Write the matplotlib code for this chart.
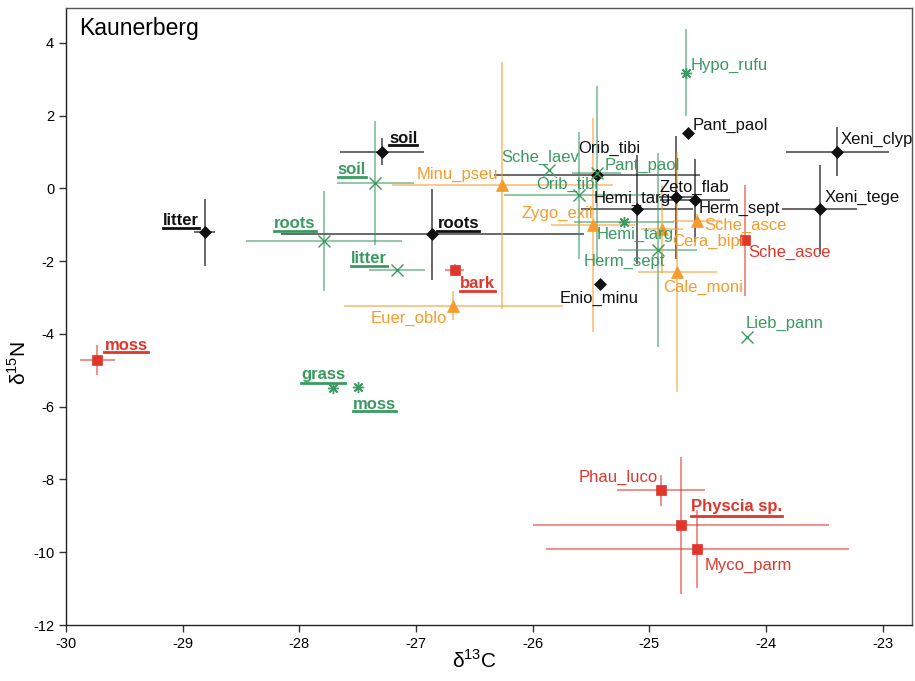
import matplotlib
matplotlib.use("Agg")
import matplotlib.pyplot as plt
from matplotlib.lines import Line2D

plt.rcParams['font.family'] = ['Liberation Sans', 'DejaVu Sans']
plt.rcParams['axes.unicode_minus'] = False
plt.rcParams['mathtext.fontset'] = 'custom'
plt.rcParams['mathtext.rm'] = 'Liberation Sans'

# --- data: (name, d13C, d15N, sd d13C, sd d15N) per group ---
black_names = ['litter', 'soil', 'roots', 'Orib_tibi', 'Pant_paol', 'Hemi_targ',
               'Zeto_flab', 'Herm_sept', 'Xeni_clyp', 'Xeni_tege', 'Enio_minu']
black_x = [-28.81, -27.29, -26.86, -25.45, -24.67, -25.11, -24.77, -24.61, -23.39, -23.54, -25.42]
black_y = [-1.21, 1.01, -1.26, 0.36, 1.53, -0.58, -0.25, -0.33, 1.01, -0.58, -2.63]
black_xerr = [0.09, 0.36, 1.30, 0.88, 0.0, 0.48, 0.15, 0.30, 0.44, 0.32, 0.0]
black_yerr = [0.92, 0.36, 1.25, 0.0, 0.0, 1.50, 1.68, 1.14, 0.67, 1.23, 0.0]

green_names = ['soil', 'roots', 'litter', 'grass', 'moss', 'Sche_laev', 'Orib_tibi',
               'Pant_paol', 'Hemi_targ', 'Herm_sept', 'Lieb_pann', 'Hypo_rufu']
green_x = [-27.35, -27.79, -27.16, -27.71, -27.50, -25.86, -25.60, -25.45, -25.22, -24.93, -24.16, -24.69]
green_y = [0.14, -1.45, -2.25, -5.48, -5.45, 0.49, -0.19, 0.41, -0.93, -1.70, -4.08, 3.18]
green_xerr = [0.33, 0.67, 0.24, 0.0, 0.0, 0.0, 0.65, 0.21, 0.43, 0.34, 0.0, 0.0]
green_yerr = [1.70, 1.38, 0.0, 0.0, 0.0, 0.0, 1.75, 2.40, 0.0, 2.67, 0.0, 1.20]
green_star = ['grass', 'moss', 'Hemi_targ', 'Hypo_rufu']

orange_names = ['Minu_pseu', 'Euer_oblo', 'Zygo_exil', 'Sche_asce', 'Cera_bipi', 'Cale_moni']
orange_x = [-26.26, -26.68, -25.48, -24.59, -24.89, -24.76]
orange_y = [0.08, -3.23, -1.01, -0.90, -1.12, -2.30]
orange_xerr = [0.95, 0.94, 0.36, 0.21, 0.18, 0.34]
orange_yerr = [3.40, 0.40, 2.95, 0.20, 1.20, 3.30]

red_names = ['moss', 'bark', 'Sche_asce', 'Phau_luco', 'Physcia sp.', 'Myco_parm']
red_x = [-29.73, -26.67, -24.18, -24.90, -24.73, -24.59]
red_y = [-4.71, -2.25, -1.43, -8.30, -9.26, -9.92]
red_xerr = [0.15, 0.08, 0.05, 0.38, 1.27, 1.30]
red_yerr = [0.41, 0.17, 1.52, 0.42, 1.89, 1.07]

resources = {'k': ['litter', 'soil', 'roots'],
             'g': ['soil', 'roots', 'litter', 'grass', 'moss'],
             'o': [],
             'r': ['moss', 'bark', 'Physcia sp.']}

# label placement: (dx px, dy px, ha, va)
lab_k = {'litter': (-6, 4, 'right', 'bottom'), 'soil': (7, 6, 'left', 'bottom'),
         'roots': (5, 3, 'left', 'bottom'), 'Orib_tibi': (-19, 19, 'left', 'bottom'),
         'Pant_paol': (5, 0, 'left', 'bottom'), 'Hemi_targ': (-4, 3, 'center', 'bottom'),
         'Zeto_flab': (-17, 2, 'left', 'bottom'), 'Herm_sept': (4, -1, 'left', 'top'),
         'Xeni_clyp': (3, 5, 'left', 'bottom'), 'Xeni_tege': (5, 4, 'left', 'bottom'),
         'Enio_minu': (-1, -7, 'center', 'top')}
lab_g = {'soil': (-9, 6, 'right', 'bottom'), 'roots': (-8, 10, 'right', 'bottom'),
         'litter': (-10, 4, 'right', 'bottom'), 'grass': (12, 6, 'right', 'bottom'),
         'moss': (-5, -10, 'left', 'top'), 'Sche_laev': (-9, 5, 'center', 'bottom'),
         'Orib_tibi': (19, 3, 'right', 'bottom'), 'Pant_paol': (8, 0, 'left', 'bottom'),
         'Hemi_targ': (-27, -5, 'left', 'top'), 'Herm_sept': (7, -4, 'right', 'top'),
         'Lieb_pann': (-2, 6, 'left', 'bottom'), 'Hypo_rufu': (5, 0, 'left', 'bottom')}
lab_o = {'Minu_pseu': (-4, 3, 'right', 'bottom'), 'Euer_oblo': (-6, -5, 'right', 'top'),
         'Zygo_exil': (0, 4, 'right', 'bottom'), 'Sche_asce': (7, -4, 'left', 'center'),
         'Cera_bipi': (10, -5, 'left', 'top'), 'Cale_moni': (-14, -8, 'left', 'top')}
lab_r = {'moss': (7, 7, 'left', 'bottom'), 'bark': (5, -6, 'left', 'top'),
         'Sche_asce': (3, -5, 'left', 'top'), 'Phau_luco': (-3, 5, 'right', 'bottom'),
         'Physcia sp.': (10, 11, 'left', 'bottom'), 'Myco_parm': (7, -9, 'left', 'top')}

c_k, c_g, c_o, c_r = '#111111', '#3a9a60', '#f59c2c', '#e0362c'

fig = plt.figure(figsize=(9.15, 6.81), dpi=100)
ax = fig.add_axes([0.0721, 0.0822, 0.9246, 0.9058])

underlined = []


def draw_group(names, xs, ys, xe, ye, color, marker, labels, res, ms, stars=()):
    for i, n in enumerate(names):
        if xe[i] > 0 or ye[i] > 0:
            ax.errorbar(xs[i], ys[i], xerr=xe[i] or None, yerr=ye[i] or None, fmt='none',
                        ecolor=color, elinewidth=1.1, alpha=0.7 if color != c_k else 0.8,
                        zorder=2)
        m = (8, 2, 0) if n in stars else marker
        mew = 1.0 if marker in ('x',) else 0.5
        ax.plot(xs[i], ys[i], linestyle='none', marker=m, color=color, ms=ms,
                mew=mew, zorder=3)
        dx, dy, ha, va = labels[n]
        bold = n in res
        t = ax.annotate(n, (xs[i], ys[i]), xytext=(dx, dy), textcoords='offset pixels',
                        ha=ha, va=va, color=color, fontsize=12,
                        fontweight='bold' if bold else 'normal', zorder=4)
        if bold:
            underlined.append((t, color))


draw_group(black_names, black_x, black_y, black_xerr, black_yerr, c_k, 'D',
           lab_k, resources['k'], 6.5)
draw_group(green_names, green_x, green_y, green_xerr, green_yerr, c_g, 'x',
           lab_g, resources['g'], 8, stars=green_star)
draw_group(orange_names, orange_x, orange_y, orange_xerr, orange_yerr, c_o, '^',
           lab_o, resources['o'], 8)
draw_group(red_names, red_x, red_y, red_xerr, red_yerr, c_r, 's',
           lab_r, resources['r'], 7.5)

ax.set_xlim(-30, -22.75)
ax.set_ylim(-12, 4.95)
ax.set_xticks(range(-30, -22))
ax.set_yticks(range(-12, 5, 2))
ax.tick_params(direction='out', length=5, width=1, labelsize=10.5, color='#333333')
for s in ax.spines.values():
    s.set_color('#555555')
    s.set_linewidth(1.0)
ax.spines['left'].set_color('#222222')
ax.spines['bottom'].set_color('#222222')
ax.set_xlabel('δ$^{13}$C', fontsize=15)
ax.set_ylabel('δ$^{15}$N', fontsize=15)
ax.xaxis.set_label_coords(0.483, -0.04)
ax.yaxis.set_label_coords(-0.043, 0.425)
ax.text(0.016, 0.985, 'Kaunerberg', transform=ax.transAxes, ha='left', va='top',
        fontsize=16.5)

# underline the resource labels
fig.canvas.draw()
r = fig.canvas.get_renderer()
inv = fig.transFigure.inverted()
for t, col in underlined:
    bb = t.get_window_extent(r)
    txt = t.get_text()
    yy = bb.y0 - 1.5 if any(ch in 'gjpqy' for ch in txt) else bb.y0 + 0.5
    (x0, y0), (x1, _) = inv.transform([(bb.x0, yy), (bb.x1, yy)])
    fig.add_artist(Line2D([x0, x1], [y0, y0], color=col, lw=2.0))

fig.savefig('out.png', dpi=100)
